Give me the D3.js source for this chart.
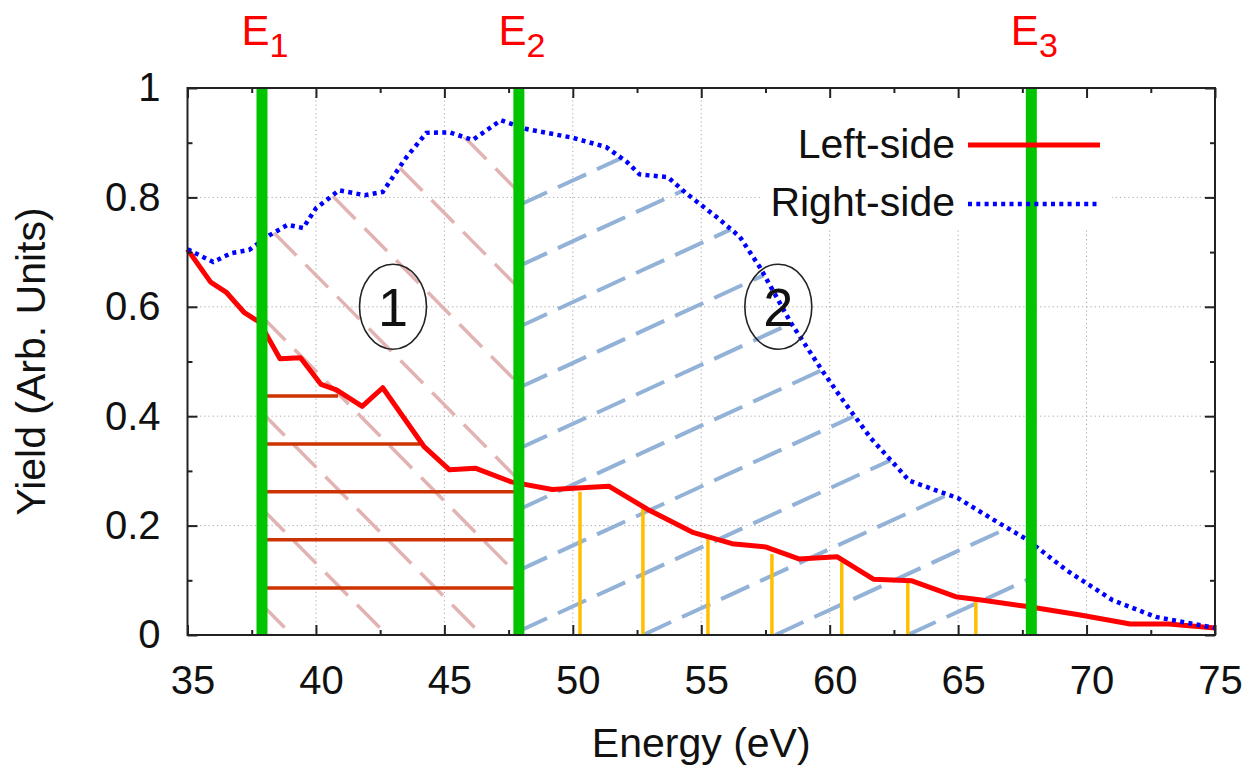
<!DOCTYPE html>
<html>
<head>
<meta charset="utf-8">
<script src="https://cdn.jsdelivr.net/npm/d3@7"></script>
<style>
  body { margin: 0; background: #fff; }
  text { font-family: "Liberation Sans", Arial, sans-serif; }
</style>
</head>
<body>
<div id="chart"></div>
<script>
// values
var leftEnergy = [35.0, 35.9, 36.5, 37.2, 37.8, 38.6, 39.4, 40.2, 40.8, 41.8, 42.6, 44.2, 45.2, 46.2, 47.6, 49.2, 50.7,
                  51.4, 52.9, 54.7, 56.2, 57.5, 58.8, 60.3, 61.7, 63.2, 64.9, 65.9, 67.7, 69.7, 71.7, 73.2, 75.0];
var leftYield = [0.705, 0.645, 0.627, 0.590, 0.572, 0.505, 0.507, 0.458, 0.448, 0.418, 0.452, 0.345, 0.302, 0.305, 0.280, 0.266, 0.270,
                 0.272, 0.230, 0.187, 0.167, 0.161, 0.139, 0.143, 0.102, 0.099, 0.070, 0.064, 0.052, 0.037, 0.020, 0.020, 0.013];

var rightEnergy = [35.0, 36.0, 36.7, 37.4, 38.2, 38.9, 39.5, 40.0, 40.9, 41.9, 42.6, 43.5, 44.3, 45.2, 46.1, 47.2, 48.2, 50.0, 51.3,
                   52.1, 52.6, 53.7, 54.4, 55.6, 56.5, 57.3, 58.5, 59.7, 60.5, 61.6, 63.1, 65.0, 66.4, 67.7, 69.2, 71.0, 72.7, 75.0];
var rightYield = [0.705, 0.682, 0.698, 0.704, 0.731, 0.750, 0.744, 0.780, 0.813, 0.804, 0.810, 0.872, 0.918, 0.919, 0.905, 0.941, 0.925, 0.909, 0.892,
                  0.865, 0.842, 0.837, 0.808, 0.764, 0.728, 0.671, 0.570, 0.484, 0.430, 0.360, 0.282, 0.250, 0.210, 0.174, 0.119, 0.064, 0.033, 0.013];

var markerEnergy = [37.9, 47.9, 67.85];
var markerNames = ["1", "2", "3"];

// horizontal strips in region 1
var levelYield = [0.437, 0.349, 0.262, 0.174, 0.086];
var levelEnd = [40.86, 44.05, 47.9, 47.9, 47.9];

// vertical strips in region 2
var stripEnergy = [50.28, 52.73, 55.26, 57.75, 60.47, 63.04, 65.69];
var stripTop = [0.262, 0.232, 0.177, 0.148, 0.133, 0.095, 0.064];

var regionNames = ["1", "2"];
var regionEnergy = [43, 58];
var regionYield = [0.6, 0.6];

var xTicks = [35, 40, 45, 50, 55, 60, 65, 70, 75],
    xMinor = [37.5, 42.5, 47.5, 52.5, 57.5, 62.5, 67.5, 72.5],
    yTicks = [0, 0.2, 0.4, 0.6, 0.8, 1],
    yMinor = [0.1, 0.3, 0.5, 0.7, 0.9];

var legendNames = ["Left-side", "Right-side"];

// hatch: anchor energy on the x axis and spacing (eV)
var pinkHatch = { origin: 42.77, step: 3.70, slope: 1.01 },
    blueHatch = { origin: 52.73, step: 5.15, slope: -0.46 };

var width = 1247, height = 768,
    plot = { left: 187.5, right: 1215, top: 88, bottom: 635 };

var svg = d3.select("#chart").append("svg")
    .attr("width", width)
    .attr("height", height);

var x = d3.scaleLinear().domain([35, 75]).range([plot.left, plot.right]);
var y = d3.scaleLinear().domain([0, 1]).range([plot.bottom, plot.top]);

var leftData = leftEnergy.map((e, i) => [e, leftYield[i]]),
    rightData = rightEnergy.map((e, i) => [e, rightYield[i]]);

var line = d3.line().x(d => x(d[0])).y(d => y(d[1]));

// grid
var grid = svg.append("g").attr("stroke", "#a6a6a6").attr("stroke-width", 1).attr("stroke-dasharray", "1.2,3");
grid.selectAll(".gx")
    .data(xTicks.slice(1, -1))
  .join("line")
    .attr("x1", d => x(d)).attr("x2", d => x(d))
    .attr("y1", y(0)).attr("y2", y(1));
grid.selectAll(".gy")
    .data(yTicks.slice(1, -1))
  .join("line")
    .attr("x1", x(35)).attr("x2", x(75))
    .attr("y1", d => y(d)).attr("y2", d => y(d));

// opaque key box
svg.append("rect")
    .attr("x", 760).attr("y", plot.top + 1)
    .attr("width", 352).attr("height", 139)
    .attr("fill", "#fff");

// clip: area under right-side curve
var defs = svg.append("defs");
defs.append("clipPath").attr("id", "under-right")
  .append("path")
    .attr("d", d3.area().x(d => x(d[0])).y0(y(0)).y1(d => y(d[1]))(rightData));
defs.append("clipPath").attr("id", "reg1")
  .append("rect")
    .attr("x", x(markerEnergy[0])).attr("y", y(1))
    .attr("width", x(markerEnergy[1]) - x(markerEnergy[0])).attr("height", y(0) - y(1));
defs.append("clipPath").attr("id", "reg2")
  .append("rect")
    .attr("x", x(markerEnergy[1])).attr("y", y(1))
    .attr("width", x(markerEnergy[2]) - x(markerEnergy[1])).attr("height", y(0) - y(1));

function rightAt(e) {
  var i = d3.bisectRight(rightEnergy, e);
  if (i <= 0) return rightYield[0];
  if (i >= rightEnergy.length) return rightYield[rightYield.length - 1];
  var t = (e - rightEnergy[i - 1]) / (rightEnergy[i] - rightEnergy[i - 1]);
  return rightYield[i - 1] + t * (rightYield[i] - rightYield[i - 1]);
}
function inside(px, py) { return py >= y(rightAt(x.invert(px))) - 0.5 && py <= y(0); }

// walk a hatch line from its anchor on the axis until it leaves the region
function hatchSegments(h, xa, xb) {
  var stepPx = x(h.origin + h.step) - x(h.origin), segs = [];
  for (var k = -12; k <= 12; k++) {
    var x0 = x(h.origin) + k * stepPx, y0 = y(0);
    var a, dir;
    if (h.slope > 0) {
      if (x0 < xa) continue;
      a = x0 <= xb ? [x0, y0] : [xb, y0 - (x0 - xb) * h.slope];
      dir = [-1, -h.slope];
    } else {
      if (x0 > xb) continue;
      a = x0 >= xa ? [x0, y0] : [xa, y0 + (xa - x0) * h.slope];
      dir = [1, h.slope];
    }
    if (!inside(a[0], a[1])) continue;
    var b = a.slice();
    for (var t = 1; t < 2000; t++) {
      var px = a[0] + dir[0] * t, py = a[1] + dir[1] * t;
      if (px < xa || px > xb || !inside(px, py)) break;
      b = [px, py];
    }
    // skip tiny stubs in the corners
    if (Math.hypot(b[0] - a[0], b[1] - a[1]) < 40) continue;
    segs.push(h.slope > 0 ? [b, a] : [a, b]);
  }
  return segs;
}

svg.append("g").attr("clip-path", "url(#reg1)")
  .append("g").attr("clip-path", "url(#under-right)")
  .selectAll("line")
    .data(hatchSegments(pinkHatch, x(markerEnergy[0]), x(markerEnergy[1])))
  .join("line")
    .attr("x1", d => d[0][0]).attr("y1", d => d[0][1])
    .attr("x2", d => d[1][0]).attr("y2", d => d[1][1])
    .attr("stroke", "#e2b3b3")
    .attr("stroke-width", 3.5)
    .attr("stroke-dasharray", "32,13");

svg.append("g").attr("clip-path", "url(#reg2)")
  .append("g").attr("clip-path", "url(#under-right)")
  .selectAll("line")
    .data(hatchSegments(blueHatch, x(markerEnergy[1]), x(markerEnergy[2])))
  .join("line")
    .attr("x1", d => d[0][0]).attr("y1", d => d[0][1])
    .attr("x2", d => d[1][0]).attr("y2", d => d[1][1])
    .attr("stroke", "#93b2d7")
    .attr("stroke-width", 4)
    .attr("stroke-dasharray", "31,12");

// horizontal strips
svg.append("g")
  .selectAll("line")
    .data(levelYield)
  .join("line")
    .attr("x1", x(markerEnergy[0]))
    .attr("x2", (d, i) => x(levelEnd[i]))
    .attr("y1", d => y(d)).attr("y2", d => y(d))
    .attr("stroke", "#cc3300")
    .attr("stroke-width", 3.5);

// vertical strips
svg.append("g")
  .selectAll("line")
    .data(stripEnergy)
  .join("line")
    .attr("x1", d => x(d)).attr("x2", d => x(d))
    .attr("y1", y(0))
    .attr("y2", (d, i) => y(stripTop[i]))
    .attr("stroke", "#ffbf00")
    .attr("stroke-width", 3.5);

// curves
svg.append("path")
    .attr("d", line(leftData))
    .attr("fill", "none")
    .attr("stroke", "#ff0000")
    .attr("stroke-width", 5)
    .attr("stroke-linejoin", "round");

svg.append("path")
    .attr("d", line(rightData))
    .attr("fill", "none")
    .attr("stroke", "#0000ff")
    .attr("stroke-width", 4.5)
    .attr("stroke-dasharray", "4,4.3");

// marker lines
svg.append("g")
  .selectAll("line")
    .data(markerEnergy)
  .join("line")
    .attr("x1", d => x(d)).attr("x2", d => x(d))
    .attr("y1", y(0)).attr("y2", y(1))
    .attr("stroke", "#00c400")
    .attr("stroke-width", 11);

var mlab = svg.append("g")
  .selectAll("text")
    .data(markerEnergy)
  .join("text")
    .attr("x", d => x(d) + 3)
    .attr("y", 45)
    .attr("text-anchor", "middle")
    .attr("fill", "#ff0000")
    .attr("font-size", "42px");
mlab.append("tspan").text("E");
mlab.append("tspan").attr("dy", 12).attr("font-size", "34px").text((d, i) => markerNames[i]);

// region labels
var reg = svg.append("g")
  .selectAll("g")
    .data(regionNames)
  .join("g")
    .attr("transform", (d, i) => `translate(${x(regionEnergy[i])},${y(regionYield[i])})`);
reg.append("ellipse")
    .attr("rx", 33.5).attr("ry", 42.5)
    .attr("fill", "none")
    .attr("stroke", "#222")
    .attr("stroke-width", 1.6);
reg.append("text")
    .attr("text-anchor", "middle")
    .attr("dy", "0.36em")
    .attr("font-size", "54px")
    .attr("fill", "#111")
    .text(d => d);

// frame
svg.append("rect")
    .attr("x", plot.left).attr("y", plot.top)
    .attr("width", plot.right - plot.left).attr("height", plot.bottom - plot.top)
    .attr("fill", "none")
    .attr("stroke", "#222")
    .attr("stroke-width", 2);

// axes, ticks pointing inward
var xAxis = d3.axisBottom(x).tickValues(xTicks).tickSize(-10).tickSizeOuter(0).tickPadding(31).tickFormat(d3.format("d"));
var yAxis = d3.axisLeft(y).tickValues(yTicks).tickSize(-10).tickSizeOuter(0).tickPadding(27).tickFormat(d3.format("~g"));

function styleAxis(g) {
  g.select(".domain").remove();
  g.selectAll(".tick line").attr("stroke", "#222").attr("stroke-width", 2);
  g.selectAll(".tick text").attr("fill", "#111").attr("font-size", "40px")
    .attr("font-family", '"Liberation Sans", Arial, sans-serif');
}

svg.append("g").attr("transform", `translate(0,${plot.bottom})`).call(xAxis).call(styleAxis)
    .selectAll(".tick text").attr("dx", 5);
svg.append("g").attr("transform", `translate(0,${plot.bottom})`)
    .call(d3.axisBottom(x).tickValues(xMinor).tickSize(-5).tickSizeOuter(0).tickFormat("")).call(styleAxis);
svg.append("g").attr("transform", `translate(0,${plot.top})`)
    .call(d3.axisTop(x).tickValues(xTicks).tickSize(-10).tickSizeOuter(0).tickFormat("")).call(styleAxis);
svg.append("g").attr("transform", `translate(0,${plot.top})`)
    .call(d3.axisTop(x).tickValues(xMinor).tickSize(-5).tickSizeOuter(0).tickFormat("")).call(styleAxis);

svg.append("g").attr("transform", `translate(${plot.left},0)`).call(yAxis).call(styleAxis);
svg.append("g").attr("transform", `translate(${plot.left},0)`)
    .call(d3.axisLeft(y).tickValues(yMinor).tickSize(-5).tickSizeOuter(0).tickFormat("")).call(styleAxis);
svg.append("g").attr("transform", `translate(${plot.right},0)`)
    .call(d3.axisRight(y).tickValues(yTicks).tickSize(-10).tickSizeOuter(0).tickFormat("")).call(styleAxis);
svg.append("g").attr("transform", `translate(${plot.right},0)`)
    .call(d3.axisRight(y).tickValues(yMinor).tickSize(-5).tickSizeOuter(0).tickFormat("")).call(styleAxis);

// axis titles
svg.append("text")
    .attr("x", (plot.left + plot.right) / 2)
    .attr("y", 757)
    .attr("text-anchor", "middle")
    .attr("font-size", "41px")
    .attr("fill", "#111")
    .text("Energy (eV)");

svg.append("text")
    .attr("transform", `translate(45,${(plot.top + plot.bottom) / 2}) rotate(-90)`)
    .attr("text-anchor", "middle")
    .attr("font-size", "41px")
    .attr("fill", "#111")
    .text("Yield (Arb. Units)");

// key
var key = svg.append("g");
key.selectAll("text")
    .data(legendNames)
  .join("text")
    .attr("x", 955)
    .attr("y", (d, i) => 158 + i * 58)
    .attr("text-anchor", "end")
    .attr("font-size", "41px")
    .attr("fill", "#111")
    .text(d => d);
key.append("line")
    .attr("x1", 968).attr("x2", 1100).attr("y1", 145).attr("y2", 145)
    .attr("stroke", "#ff0000").attr("stroke-width", 5);
key.append("line")
    .attr("x1", 968).attr("x2", 1100).attr("y1", 204).attr("y2", 204)
    .attr("stroke", "#0000ff").attr("stroke-width", 4.5).attr("stroke-dasharray", "4,4.3");
</script>
</body>
</html>
